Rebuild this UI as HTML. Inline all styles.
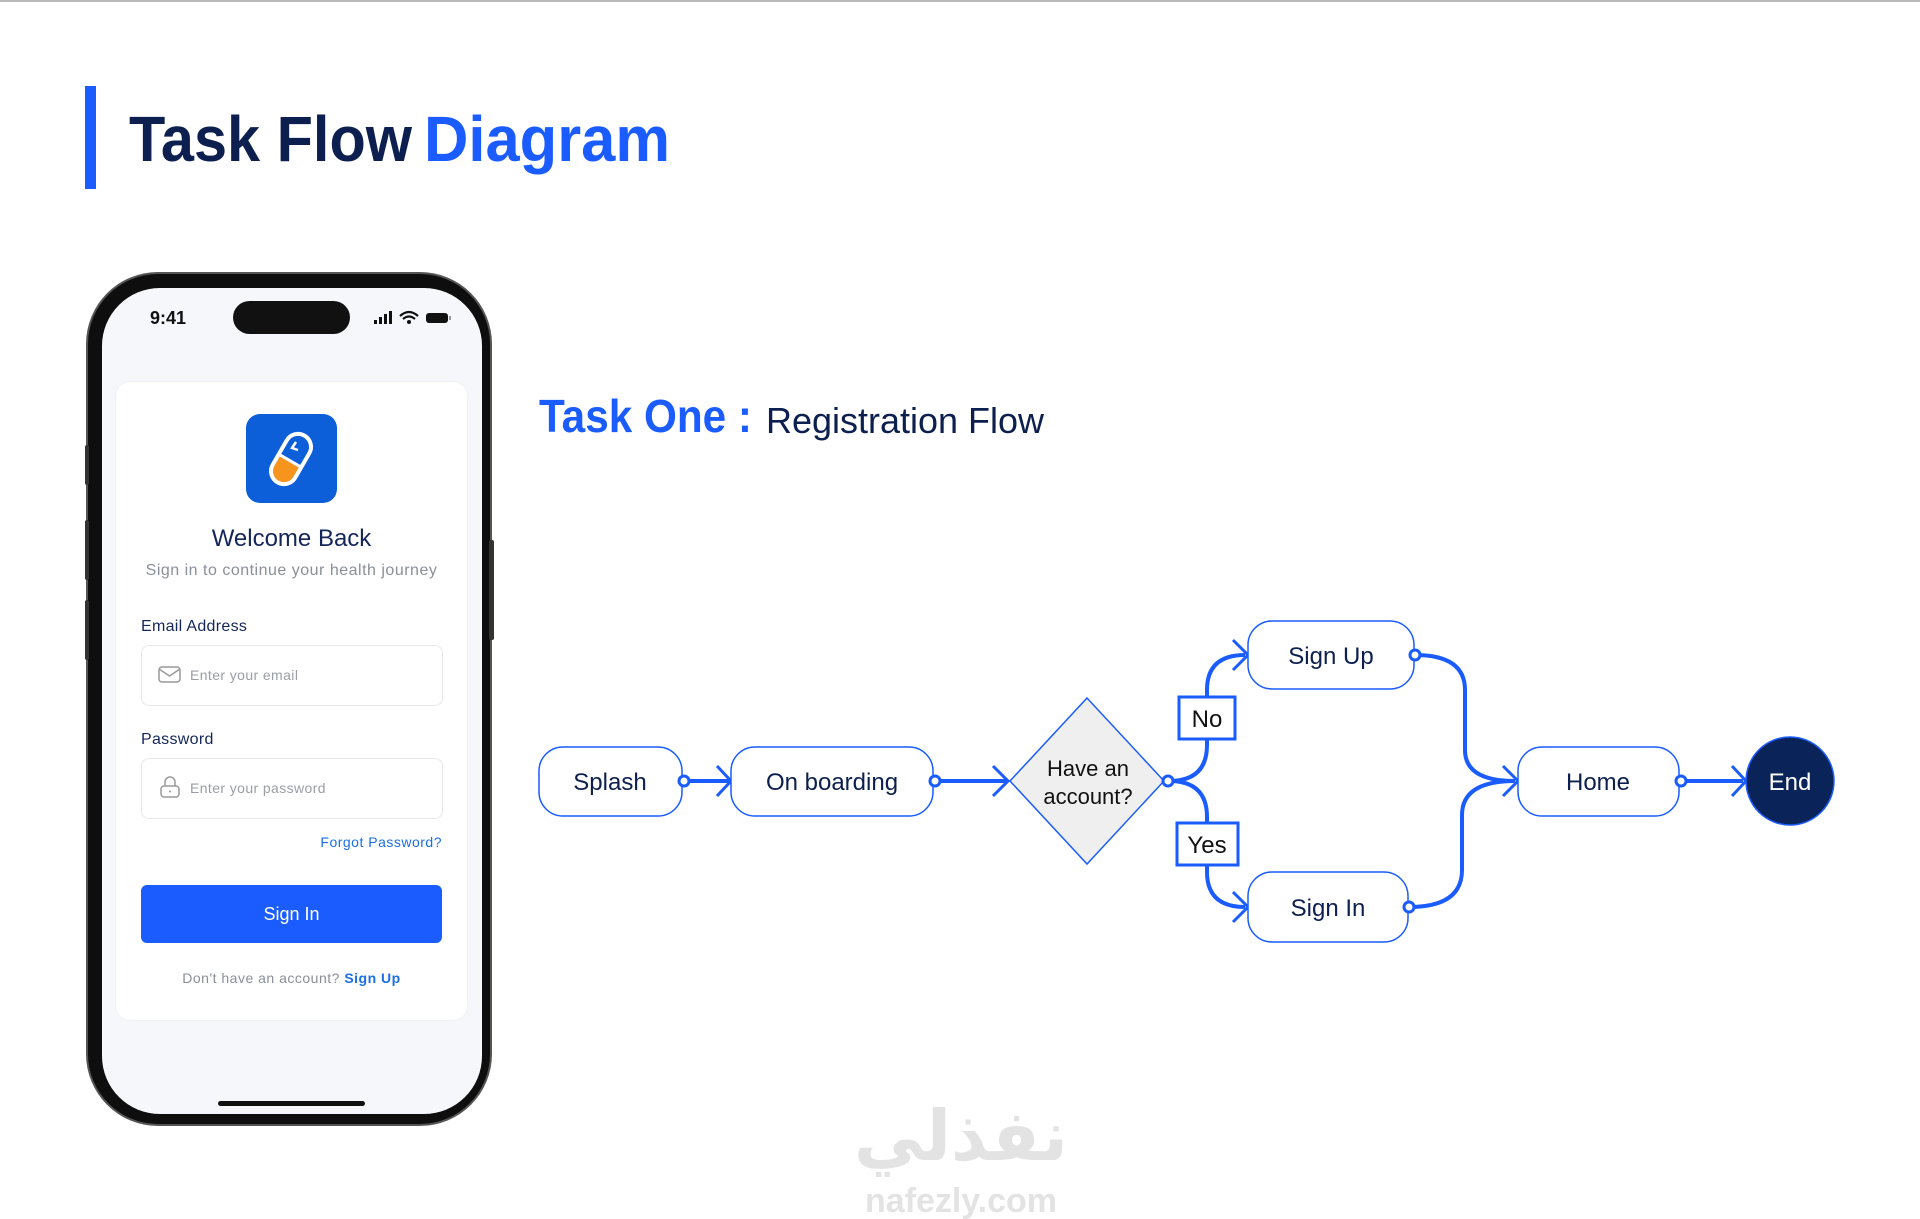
<!DOCTYPE html>
<html><head><meta charset="utf-8"><style>
html,body{margin:0;padding:0;background:#fff;}
body{width:1920px;height:1219px;position:relative;overflow:hidden;font-family:"Liberation Sans",sans-serif;}
.abs{position:absolute;}
</style></head><body>
<div class="abs" style="left:0;top:0;width:1920px;height:2px;background:#bbb"></div>
<div class="abs" style="left:85px;top:86px;width:11px;height:103px;background:#1a5cff"></div>

<!-- phone -->
<div class="abs" style="left:88px;top:274px;width:402px;height:850px;border-radius:70px;background:#0e0e0e;box-shadow:0 0 0 2px #555"></div>
<div class="abs" style="left:85px;top:445px;width:4px;height:40px;background:#333;border-radius:2px"></div>
<div class="abs" style="left:85px;top:520px;width:4px;height:60px;background:#333;border-radius:2px"></div>
<div class="abs" style="left:85px;top:600px;width:4px;height:60px;background:#333;border-radius:2px"></div>
<div class="abs" style="left:489px;top:540px;width:5px;height:100px;background:#333;border-radius:2px"></div>
<div class="abs" style="left:102px;top:288px;width:380px;height:826px;border-radius:58px;background:#f6f7fa"></div>
<div class="abs" style="left:150px;top:308px;font-size:18px;font-weight:bold;color:#111">9:41</div>
<div class="abs" style="left:233px;top:301px;width:117px;height:33px;border-radius:17px;background:#111"></div>
<svg class="abs" style="left:372px;top:308px" width="82" height="20">
<rect x="2" y="12" width="3" height="4" fill="#111"/><rect x="7" y="9" width="3" height="7" fill="#111"/><rect x="12" y="6" width="3" height="10" fill="#111"/><rect x="17" y="3" width="3" height="13" fill="#111"/>
<path d="M28 8 Q37 0 46 8 M31 11 Q37 6 43 11" stroke="#111" stroke-width="2.2" fill="none"/><circle cx="37" cy="14" r="2" fill="#111"/>
<rect x="54" y="5" width="22" height="10" rx="3" fill="#111"/><rect x="77" y="8" width="2" height="4" fill="#999"/>
</svg>
<div class="abs" style="left:116px;top:382px;width:351px;height:638px;border-radius:14px;background:#fff;box-shadow:0 0 2px #e6e8ee"></div>
<div class="abs" style="left:246px;top:414px;width:91px;height:89px;border-radius:14px;background:#0c5fd9"></div>
<svg class="abs" style="left:246px;top:414px" width="91" height="89">
<g transform="rotate(30 45 45)"><rect x="32" y="18" width="26" height="54" rx="13" fill="#0c5fd9"/>
<path d="M32 47 H58 V59 A13 13 0 0 1 32 59 Z" fill="#f7941d"/>
<line x1="32" y1="47" x2="58" y2="47" stroke="#fff" stroke-width="3"/>
<rect x="32" y="18" width="26" height="54" rx="13" fill="none" stroke="#fff" stroke-width="4"/></g>
<path d="M50 28 L46 34 L52 36" stroke="#fff" stroke-width="2.5" fill="none"/>
</svg>
<div class="abs" style="left:116px;top:525px;width:351px;text-align:center;font-size:24px;color:#14265a">Welcome Back</div>
<div class="abs" style="left:116px;top:562px;width:351px;text-align:center;font-size:16px;color:#8a8f99;letter-spacing:0.5px">Sign in to continue your health journey</div>
<div class="abs" style="left:141px;top:618px;font-size:16px;color:#14265a;letter-spacing:0.3px">Email Address</div>
<div class="abs" style="left:141px;top:645px;width:300px;height:59px;border:1px solid #e6e8ec;border-radius:8px;background:#fff"></div>
<svg class="abs" style="left:158px;top:666px" width="24" height="18"><rect x="1" y="1" width="21" height="15" rx="3" fill="none" stroke="#999" stroke-width="1.5"/><path d="M1 3 L11.5 10 L22 3" fill="none" stroke="#999" stroke-width="1.5"/></svg>
<div class="abs" style="left:190px;top:667px;font-size:14px;color:#9a9ea6;letter-spacing:0.4px">Enter your email</div>
<div class="abs" style="left:141px;top:731px;font-size:16px;color:#14265a;letter-spacing:0.3px">Password</div>
<div class="abs" style="left:141px;top:758px;width:300px;height:59px;border:1px solid #e6e8ec;border-radius:8px;background:#fff"></div>
<svg class="abs" style="left:159px;top:775px" width="22" height="24"><path d="M6 11 V7 A5 5 0 0 1 16 7 V11" fill="none" stroke="#999" stroke-width="1.5"/><rect x="2" y="11" width="18" height="11" rx="3" fill="none" stroke="#999" stroke-width="1.5"/><circle cx="11" cy="16.5" r="1" fill="#999"/></svg>
<div class="abs" style="left:190px;top:780px;font-size:14px;color:#9a9ea6;letter-spacing:0.4px">Enter your password</div>
<div class="abs" style="left:240px;top:834px;width:202px;text-align:right;font-size:14px;color:#1a6ee6;letter-spacing:0.5px">Forgot Password?</div>
<div class="abs" style="left:141px;top:885px;width:301px;height:58px;border-radius:6px;background:#1a5cff;color:#fff;font-size:18px;text-align:center;line-height:58px">Sign In</div>
<div class="abs" style="left:116px;top:970px;width:351px;text-align:center;font-size:14px;color:#8a8f99;letter-spacing:0.5px">Don't have an account? <b style="color:#1a6ee6">Sign Up</b></div>
<div class="abs" style="left:218px;top:1101px;width:147px;height:5px;border-radius:3px;background:#111"></div>

<svg class="abs" style="left:0;top:0" width="1920" height="1219">
<text x="129" y="161" font-family="Liberation Sans" font-weight="bold" font-size="64" fill="#0d1f4f" textLength="283" lengthAdjust="spacingAndGlyphs">Task Flow</text>
<text x="424" y="161" font-family="Liberation Sans" font-weight="bold" font-size="64" fill="#1a5cff" textLength="246" lengthAdjust="spacingAndGlyphs">Diagram</text>
<text x="539" y="432" font-family="Liberation Sans" font-weight="bold" font-size="46" fill="#1a5cff" textLength="213" lengthAdjust="spacingAndGlyphs">Task One :</text>
<text x="766" y="433" font-family="Liberation Sans" font-size="36" fill="#0d1f4f" textLength="278" lengthAdjust="spacingAndGlyphs">Registration Flow</text>

<g stroke="#1a5cff" stroke-width="4" fill="none">
<line x1="684" y1="781" x2="729" y2="781"/>
<line x1="935" y1="781" x2="1008" y2="781"/>
<path d="M1169 781 Q1207 781 1207 745 V690 Q1207 655 1245 655"/>
<path d="M1169 781 Q1207 781 1207 817 V872 Q1207 907 1245 907"/>
<path d="M1415 655 Q1465 655 1465 690 V750 Q1465 781 1515 781"/>
<path d="M1409 907 Q1462 907 1462 870 V815 Q1462 781 1515 781"/>
<line x1="1681" y1="781" x2="1743" y2="781"/>
</g>
<g stroke="#1a5cff" stroke-width="3" fill="none">
<path d="M717 766 L731 781 L717 796"/>
<path d="M993 766 L1008 781 L993 796"/>
<path d="M1233 640 L1248 655 L1233 670"/>
<path d="M1233 892 L1248 907 L1233 922"/>
<path d="M1503 766 L1518 781 L1503 796"/>
<path d="M1732 766 L1746 781 L1732 796"/>
</g>
<g fill="#fff" stroke="#1a5cff" stroke-width="1.5">
<rect x="539" y="747" width="143" height="69" rx="24"/>
<rect x="731" y="747" width="202" height="69" rx="24"/>
<rect x="1248" y="621" width="166" height="68" rx="24"/>
<rect x="1248" y="872" width="160" height="70" rx="24"/>
<rect x="1518" y="747" width="161" height="69" rx="24"/>
<path d="M1087 698 L1164 781 L1087 864 L1010 781 Z" fill="#efefef"/>
</g>
<g fill="#fff" stroke="#1a5cff" stroke-width="3">
<circle cx="684" cy="781" r="5"/><circle cx="935" cy="781" r="5"/><circle cx="1168" cy="781" r="5"/>
<circle cx="1415" cy="655" r="5"/><circle cx="1409" cy="907" r="5"/><circle cx="1681" cy="781" r="5"/>
<rect x="1179" y="697" width="56" height="42"/><rect x="1177" y="823" width="61" height="42"/>
</g>
<circle cx="1790" cy="781" r="44" fill="#0a2459" stroke="#1a5cff" stroke-width="1.5"/>
<g font-family="Liberation Sans" font-size="24" fill="#0d1f4f" text-anchor="middle">
<text x="610" y="790">Splash</text>
<text x="832" y="790">On boarding</text>
<text x="1331" y="664">Sign Up</text>
<text x="1328" y="916">Sign In</text>
<text x="1598" y="790">Home</text>
<text x="1088" y="776" font-size="22" fill="#111">Have an</text>
<text x="1088" y="804" font-size="22" fill="#111">account?</text>
<text x="1207" y="727" fill="#111">No</text>
<text x="1207" y="853" fill="#111">Yes</text>
<text x="1790" y="790" fill="#fff">End</text>
</g>
<text x="961" y="1160" font-family="'Noto Sans CJK SC','DejaVu Sans',sans-serif" font-weight="bold" font-size="70" fill="#e3e3e3" text-anchor="middle">نفذلي</text>
<text x="961" y="1212" font-family="Liberation Sans" font-weight="bold" font-size="34" fill="#e3e3e3" text-anchor="middle">nafezly.com</text>
</svg>
</body></html>
